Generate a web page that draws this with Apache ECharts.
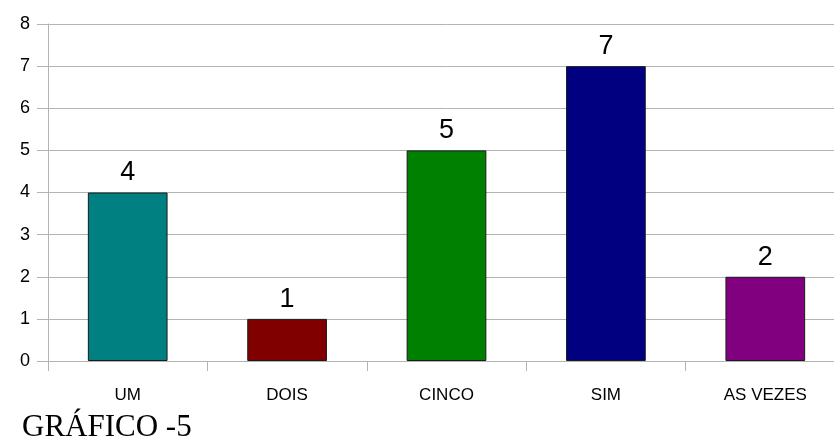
<!DOCTYPE html>
<html><head><meta charset="utf-8">
<script src="https://cdn.jsdelivr.net/npm/echarts@6/dist/echarts.min.js"></script>
<style>html,body{margin:0;padding:0;background:#fff;overflow:hidden}#c{width:860px;height:448px}</style>
</head><body><div id="c"></div>
<script>
var categories = ['UM', 'DOIS', 'CINCO', 'SIM', 'AS VEZES'];
var values = [4, 1, 5, 7, 2];
var colors = ['#008080', '#800000', '#008000', '#000080', '#800080'];
var yTicks = [0, 1, 2, 3, 4, 5, 6, 7, 8];
var titleText = 'GRÁFICO -5';

var chart = echarts.init(document.getElementById('c'));
chart.setOption({
  animation: false,
  backgroundColor: '#fff',
  title: {
    text: titleText, left: 17, bottom: 0,
    textStyle: {fontFamily: 'Liberation Serif', fontSize: 31, fontWeight: 'normal', color: '#000'}
  },
  grid: {left: 48, width: 797, top: 24, bottom: 87, containLabel: false},
  xAxis: {
    type: 'category', data: categories,
    axisLine: {lineStyle: {color: '#b3b3b3'}},
    axisTick: {show: true, length: 10, alignWithLabel: false, lineStyle: {color: '#b3b3b3'}},
    axisLabel: {margin: 26, fontFamily: 'Liberation Sans', fontSize: 17, color: '#000'}
  },
  yAxis: {
    type: 'value', min: yTicks[0], max: yTicks[yTicks.length - 1], interval: 1,
    axisLine: {show: true, lineStyle: {color: '#b3b3b3'}},
    axisTick: {show: true, length: 11, lineStyle: {color: '#b3b3b3'}},
    splitLine: {lineStyle: {color: '#b3b3b3'}},
    axisLabel: {margin: 18, fontFamily: 'Liberation Sans', fontSize: 18, color: '#000'}
  },
  series: [{
    type: 'bar', barWidth: '50%',
    data: values.map(function (v, i) {
      return {value: v, itemStyle: {color: colors[i], borderColor: '#1a1a1a', borderWidth: 1}};
    }),
    label: {show: true, position: 'top', distance: 6, fontFamily: 'Liberation Sans', fontSize: 27, color: '#000'}
  }]
});
</script></body></html>
